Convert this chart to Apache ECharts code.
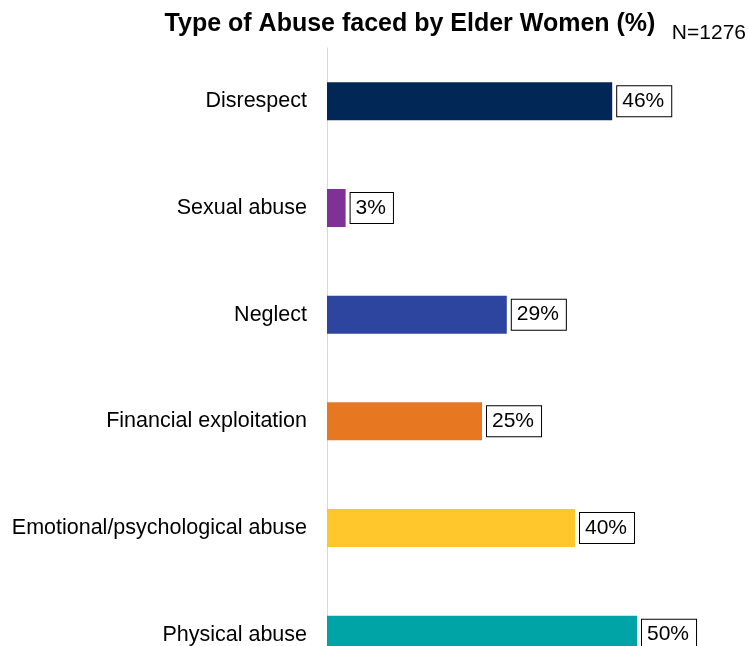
<!DOCTYPE html>
<html>
<head>
<meta charset="utf-8">
<script src="https://cdn.jsdelivr.net/npm/echarts@6/dist/echarts.min.js"></script>
<style>
  html, body { margin: 0; padding: 0; background: #fff; }
  #chart { width: 748px; height: 646px; }
</style>
</head>
<body>
<div id="chart"></div>
<script>
// Abuse types, listed top to bottom
const categories = [
  'Disrespect',
  'Sexual abuse',
  'Neglect',
  'Financial exploitation',
  'Emotional/psychological abuse',
  'Physical abuse'
];
// Share of respondents (%)
const values = [46, 3, 29, 25, 40, 50];
const barColors = ['#002755', '#7F3197', '#2E45A0', '#E87722', '#FFC72C', '#00A3A6'];

const FONT = 'Liberation Sans, Arial, sans-serif';

const chart = echarts.init(document.getElementById('chart'));
chart.setOption({
  animation: false,
  backgroundColor: '#ffffff',
  title: [
    {
      text: 'Type of Abuse faced by Elder Women (%)',
      left: 410,
      top: 12,
      padding: 0,
      textAlign: 'center',
      textStyle: { fontFamily: FONT, fontSize: 25, fontWeight: 'bold', color: '#000' }
    },
    {
      text: 'N=1276',
      right: 2,
      top: 23,
      padding: 0,
      textStyle: { fontFamily: FONT, fontSize: 21, fontWeight: 'normal', color: '#000' }
    }
  ],
  // the last band runs past the bottom edge of the canvas
  grid: { left: 327, top: 48, width: 372, height: 640, outerBoundsMode: 'none', containLabel: false },
  xAxis: {
    type: 'value',
    min: 0,
    max: 60,
    show: false
  },
  yAxis: {
    type: 'category',
    inverse: true,
    data: categories,
    axisLine: { show: true, lineStyle: { color: '#d9d9d9', width: 1 } },
    axisTick: { show: false },
    axisLabel: {
      margin: 20,
      fontFamily: FONT,
      fontSize: 21.5,
      color: '#000'
    }
  },
  series: [{
    type: 'bar',
    barWidth: 38,
    data: values.map((v, i) => ({ value: v, itemStyle: { color: barColors[i] } })),
    label: {
      show: true,
      position: 'right',
      distance: 5,
      formatter: '{c}%',
      fontFamily: FONT,
      fontSize: 21,
      color: '#000',
      backgroundColor: '#fff',
      borderColor: '#000',
      borderWidth: 1,
      padding: [5, 7, 4, 5]
    }
  }]
});
</script>
</body>
</html>
